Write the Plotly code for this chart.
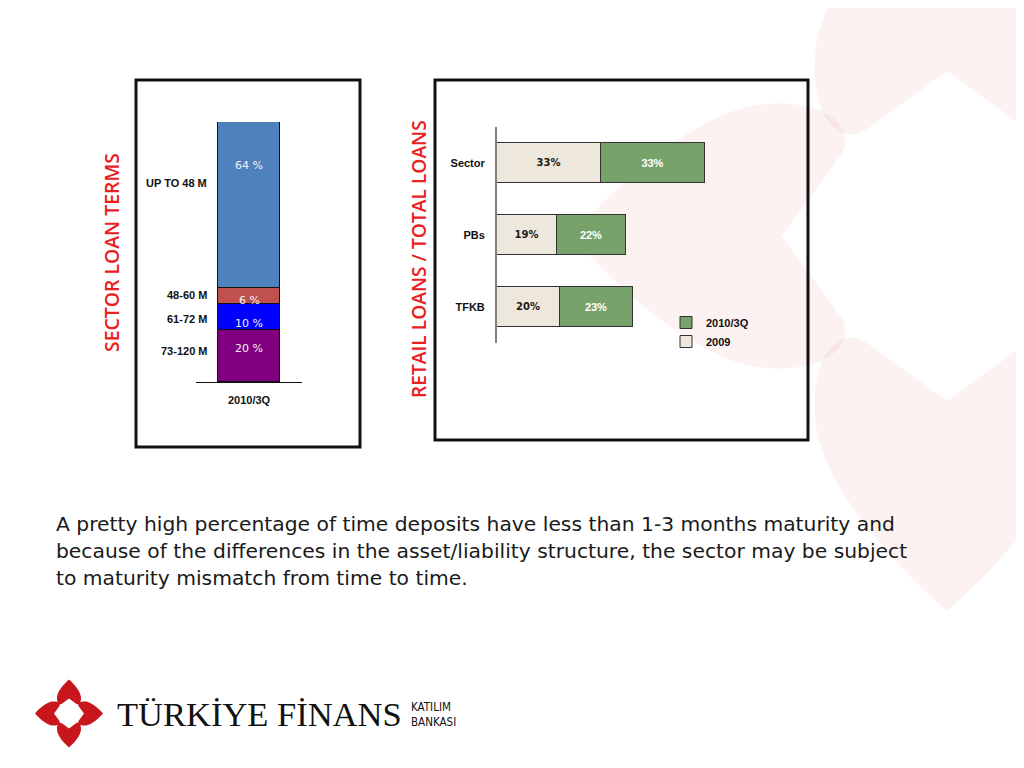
import math
import plotly.graph_objects as go

# ---------------- data ----------------
loan_period = ["2010/3Q"]
loan_terms = ["73-120 M", "61-72 M", "48-60 M", "UP TO 48 M"]
loan_share = [20, 10, 6, 64]

retail_banks = ["Sector", "PBs", "TFKB"]
retail_2009 = [33, 19, 20]
retail_2010q3 = [33, 22, 23]

body_lines = [
    "A pretty high percentage of time deposits have less than 1-3 months maturity and",
    "because of the differences in the asset/liability structure, the sector may be subject",
    "to maturity mismatch from time to time.",
]

# ---------------- styles ----------------
W, H = 1024, 768
OFF = 8  # page body margin compensation
term_colors = ["#800080", "#0000FF", "#C0504D", "#4F81BD"]
label_shift_in = [8, -6, -4, 40]      # px shifts of the in-bar labels
label_shift_out = [5, -2, 1, 22]      # px shifts of the left term labels
body_line_y = [524, 551, 578]
c2009 = "#EEE8DC"
c2010 = "#77A36B"
RED = "#E8201E"


def px(x):
    return (x - OFF) / W


def py(y):
    return 1 - (y - OFF) / H


def petal_path(cx, cy, S, ang):
    a = math.radians(ang)
    d = (math.cos(a), math.sin(a))
    p = (-math.sin(a), math.cos(a))

    def pt(u, v):
        x = cx + S * (u * d[0] + v * p[0])
        y = cy + S * (u * d[1] + v * p[1])
        return f"{px(x):.5f},{py(y):.5f}"

    return (f"M {pt(0.44, 0)} L {pt(0.28, 0.22)} "
            f"C {pt(0.24, 0.30)} {pt(0.34, 0.37)} {pt(0.5, 0.35)} "
            f"C {pt(0.66, 0.33)} {pt(0.86, 0.16)} {pt(1.0, 0)} "
            f"C {pt(0.86, -0.16)} {pt(0.66, -0.33)} {pt(0.5, -0.35)} "
            f"C {pt(0.34, -0.37)} {pt(0.24, -0.30)} {pt(0.28, -0.22)} Z")


fig = go.Figure()

# ---- left chart: stacked vertical bar ----
for term, val, col in zip(loan_terms, loan_share, term_colors):
    fig.add_trace(go.Bar(
        x=loan_period, y=[val], name=term, marker=dict(color=col, line=dict(color="#111111", width=1)),
        width=0.585, showlegend=False, xaxis="x", yaxis="y", hoverinfo="skip"))

# ---- right chart: stacked horizontal bars ----
fig.add_trace(go.Bar(
    y=retail_banks, x=retail_2009, name="2009", orientation="h",
    marker=dict(color=c2009, line=dict(color="#333333", width=1)),
    text=[f"{v}%" for v in retail_2009], textposition="inside", insidetextanchor="middle",
    textangle=0, textfont=dict(family="DejaVu Sans", size=10, color="#1a1a1a", weight="bold"),
    width=0.555, xaxis="x2", yaxis="y2", hoverinfo="skip"))
fig.add_trace(go.Bar(
    y=retail_banks, x=retail_2010q3, name="2010/3Q", orientation="h",
    marker=dict(color=c2010, line=dict(color="#333333", width=1)),
    text=[f"{v}%" for v in retail_2010q3], textposition="inside", insidetextanchor="middle",
    textangle=0, textfont=dict(family="Liberation Sans", size=11, color="white", weight="bold"),
    width=0.555, xaxis="x2", yaxis="y2", hoverinfo="skip"))

annotations = []
# in-bar and side labels for left chart
cum = 0
for term, val, s_in, s_out in zip(loan_terms, loan_share, label_shift_in, label_shift_out):
    mid = cum + val / 2
    cum += val
    annotations.append(dict(xref="x", yref="y", x=0, y=mid, yshift=s_in, text=f"{val} %",
                            xanchor="center", yanchor="middle",
                            showarrow=False, font=dict(family="DejaVu Sans", size=11, color="#F4F0F4")))
    annotations.append(dict(xref="paper", yref="y", x=px(209), xanchor="right", y=mid, yshift=s_out,
                            yanchor="middle", text=f"<b>{term}</b>", showarrow=False,
                            font=dict(family="Liberation Sans", size=11, color="#111111")))

# vertical titles
annotations.append(dict(xref="paper", yref="paper", x=px(111), y=py(253), text="SECTOR LOAN TERMS",
                        xanchor="center", yanchor="middle", textangle=-90, showarrow=False,
                        font=dict(family="Open Sans", size=19.4, color=RED, weight=600)))
annotations.append(dict(xref="paper", yref="paper", x=px(418), y=py(259), text="RETAIL LOANS / TOTAL LOANS",
                        xanchor="center", yanchor="middle", textangle=-90, showarrow=False,
                        font=dict(family="Open Sans", size=19.2, color=RED, weight=600)))

# body text
for line, ly in zip(body_lines, body_line_y):
    annotations.append(dict(xref="paper", yref="paper", x=px(54), y=py(ly), xanchor="left", yanchor="middle",
                            align="left", text=line, showarrow=False,
                            font=dict(family="DejaVu Sans", size=20.3, color="#1a1a1a")))

# logo text
annotations.append(dict(xref="paper", yref="paper", x=px(115), y=py(714), xanchor="left", yanchor="middle",
                        text="TÜRKİYE FİNANS", showarrow=False,
                        font=dict(family="Liberation Serif", size=34.5, color="#111111")))
annotations.append(dict(xref="paper", yref="paper", x=px(409), y=py(714), xanchor="left", yanchor="middle",
                        text="KATILIM<br>BANKASI", showarrow=False, align="left",
                        font=dict(family="DejaVu Sans Condensed", size=11.5, color="#111111")))

shapes = []
# faint watermark flower
for ang in (-90, 90, 180, 0):
    shapes.append(dict(type="path", xref="paper", yref="paper", path=petal_path(947, 236, 375, ang),
                       fillcolor="rgba(205,40,40,0.06)", line=dict(width=0), layer="below"))
# logo flower
for ang in (-90, 90, 180, 0):
    shapes.append(dict(type="path", xref="paper", yref="paper", path=petal_path(69, 713.5, 34, ang),
                       fillcolor="#C8161D", line=dict(width=0), layer="above"))
# chart frames
shapes.append(dict(type="rect", xref="paper", yref="paper", x0=px(136), x1=px(360), y0=py(80), y1=py(447),
                   line=dict(color="#111111", width=3), fillcolor="rgba(0,0,0,0)", layer="below"))
shapes.append(dict(type="rect", xref="paper", yref="paper", x0=px(435), x1=px(808), y0=py(80), y1=py(440),
                   line=dict(color="#111111", width=3), fillcolor="rgba(0,0,0,0)", layer="below"))

fig.update_layout(
    width=W, height=H,
    margin=dict(l=0, r=0, t=0, b=0),
    paper_bgcolor="white", plot_bgcolor="rgba(0,0,0,0)",
    barmode="stack", bargap=0,
    xaxis=dict(domain=[px(196), px(302)], range=[-0.5, 0.5], showline=True, linecolor="#111111",
               linewidth=1, showgrid=False, zeroline=False, ticks="", fixedrange=True,
               tickvals=loan_period, ticktext=[f"<b>{p}</b>" for p in loan_period],
               tickfont=dict(family="Liberation Sans", size=11, color="#111111"), ticklabelstandoff=8),
    yaxis=dict(domain=[py(382), py(122)], range=[0, 100], visible=False, fixedrange=True),
    xaxis2=dict(domain=[px(497), px(797)], range=[0, 95.2], visible=False, anchor="y2", fixedrange=True),
    yaxis2=dict(domain=[py(343), py(127)], anchor="x2", categoryorder="array",
                categoryarray=retail_banks, autorange="reversed", showline=True, linecolor="#808080",
                linewidth=2, showgrid=False, zeroline=False, ticks="", ticklabelstandoff=8,
                tickvals=retail_banks, ticktext=[f"<b>{b}</b>" for b in retail_banks],
                tickfont=dict(family="Liberation Sans", size=11, color="#111111"), fixedrange=True),
    legend=dict(x=px(666), y=py(308), xanchor="left", yanchor="top", traceorder="reversed",
                bgcolor="rgba(0,0,0,0)", font=dict(family="Liberation Sans", size=11, color="#111111",
                                                   weight="bold"),
                itemwidth=30, tracegroupgap=0),
    annotations=annotations,
    shapes=shapes,
)

fig.write_html("out.html")
